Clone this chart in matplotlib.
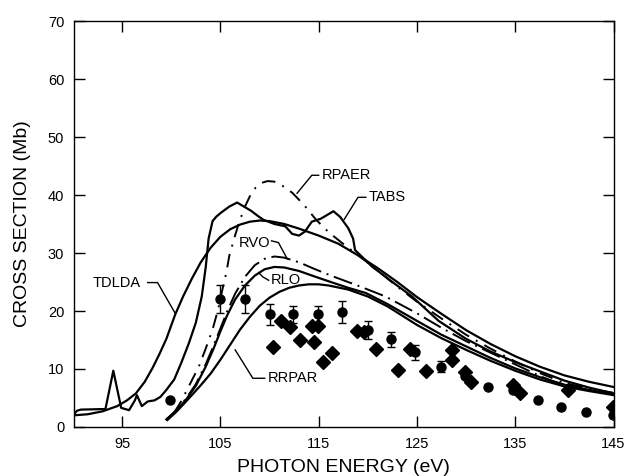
import matplotlib
matplotlib.use("Agg")
import matplotlib.pyplot as plt

plt.rcParams["font.family"] = ["Liberation Sans", "DejaVu Sans"]

# measured points: circles carry error bars, diamonds do not
circ_e = [99.9, 105.0, 107.5, 110.0, 112.4, 114.9, 117.4, 120.0, 122.4, 124.8,
          127.4, 129.9, 132.2, 134.8, 137.3, 139.7, 142.2, 144.9]
circ_s = [4.7, 22.0, 22.0, 19.4, 19.4, 19.4, 19.9, 16.7, 15.1, 12.9,
          10.4, 8.8, 6.9, 6.3, 4.7, 3.5, 2.6, 2.0]
circ_err = [0, 2.4, 2.4, 1.8, 1.5, 1.5, 1.9, 1.6, 1.3, 1.3,
            0.9, 0, 0, 0, 0, 0, 0, 0]

diam_e = [110.3, 111.2, 112.1, 113.1, 114.3, 114.5, 114.9, 115.4, 116.4, 118.9,
          119.6, 120.8, 123.1, 124.3, 125.9, 128.6, 128.6, 129.9, 130.5, 134.8,
          135.5, 140.4, 144.9]
diam_s = [13.8, 18.2, 17.3, 15.0, 17.4, 14.6, 17.5, 11.2, 12.7, 16.5,
          16.4, 13.4, 9.9, 13.4, 9.6, 13.3, 11.6, 9.5, 7.8, 7.3,
          5.9, 6.3, 3.5]

# theory curves
tdlda_e = [90.0, 91.5, 93.0, 94.5, 95.5, 96.4, 97.3, 98.1, 98.8, 99.5, 100.4, 101.2,
           102.1, 103.0, 104.0, 105.0, 106.0, 107.0, 108.0, 109.0, 110.0, 111.5, 113.0,
           115.0, 117.0, 119.0, 121.0, 123.0, 125.0, 127.5, 130.0, 132.5, 135.0, 137.5,
           140.0, 142.5, 145.0]
tdlda_s = [2.0, 2.2, 2.7, 3.6, 4.6, 5.8, 7.8, 10.2, 12.6, 15.2, 19.4, 22.5,
           25.6, 28.4, 30.9, 32.8, 34.1, 34.9, 35.4, 35.6, 35.5, 35.0, 34.2,
           33.0, 31.6, 29.6, 27.4, 25.0, 22.4, 19.5, 16.7, 14.3, 12.2, 10.4,
           8.9, 7.8, 6.9]

tabs_e = [90.0, 90.4, 90.8, 93.3, 94.1, 94.9, 95.7, 96.3, 96.5, 97.0, 97.6, 98.3,
          98.9, 99.5, 100.3, 101.0, 101.8, 102.5, 103.1, 103.5, 103.8, 104.2, 104.6,
          105.1, 105.9, 106.7, 107.4, 108.1, 108.8, 109.4, 110.5, 111.6, 112.3, 113.0,
          113.6, 114.3, 115.2, 116.5, 117.2, 118.0, 118.5, 118.7, 119.5, 120.4, 122.5,
          124.5, 127.2, 130.0, 132.5, 135.0, 137.5, 140.0, 142.5, 145.0]
tabs_s = [2.0, 2.8, 3.0, 3.1, 9.7, 3.3, 2.9, 4.6, 5.5, 3.6, 4.4, 4.6,
          5.2, 6.4, 8.2, 11.0, 14.5, 18.0, 22.5, 27.5, 32.5, 35.5, 36.3,
          37.0, 38.0, 38.7, 38.0, 37.3, 36.4, 35.7, 35.0, 34.6, 33.3, 33.0,
          33.7, 35.4, 35.9, 37.2, 36.2, 34.3, 32.5, 30.5, 29.2, 27.7, 25.0,
          22.5, 18.3, 15.2, 13.0, 11.2, 9.6, 8.0, 6.8, 5.8]

rpaer_e = [100.3, 101.0, 101.6, 102.2, 102.8, 103.5, 104.2, 104.8, 105.2, 105.6, 105.9,
           106.4, 106.9, 107.5, 108.0, 108.6, 109.2, 109.8, 110.5, 111.3, 112.3, 113.5,
           114.7, 116.0, 117.4, 119.1, 121.0, 123.0, 125.0, 127.5, 130.0, 132.5, 135.0,
           137.5, 140.0, 142.5, 145.0]
rpaer_s = [2.5, 4.4, 6.4, 8.4, 10.4, 13.5, 16.8, 20.5, 23.7, 26.6, 29.5,
           32.5, 35.3, 38.0, 39.8, 41.3, 42.1, 42.4, 42.3, 41.6, 40.4, 38.3,
           35.8, 33.6, 31.7, 29.5, 27.0, 24.2, 21.6, 18.7, 15.9, 13.5, 11.3,
           9.3, 7.6, 6.6, 5.9]

rvo_e = [99.5, 100.5, 101.5, 102.5, 103.5, 104.3, 105.0, 105.7, 106.5, 107.5, 108.5,
         109.5, 110.5, 111.5, 113.0, 114.5, 116.4, 119.1, 121.8, 125.0, 127.5, 130.0,
         132.5, 135.0, 137.5, 140.5]
rvo_s = [1.3, 2.9, 4.9, 7.4, 10.8, 14.0, 17.0, 20.0, 23.0, 25.9, 27.9,
         29.0, 29.4, 29.2, 28.4, 27.3, 26.0, 24.3, 22.5, 19.6, 17.1, 14.8,
         12.8, 10.8, 8.8, 6.7]

rlo_e = [99.5, 100.5, 101.5, 102.5, 103.5, 104.3, 105.0, 105.7, 106.5, 107.5, 108.5,
         109.5, 110.5, 111.5, 113.0, 114.5, 116.4, 118.0, 119.8, 122.0, 125.0, 127.5,
         130.0, 132.5, 135.0, 137.5, 140.0, 142.5, 145.0]
rlo_s = [1.3, 2.8, 4.7, 7.1, 10.4, 13.5, 16.5, 19.3, 22.0, 24.4, 26.1,
         27.2, 27.6, 27.5, 26.9, 26.0, 24.9, 24.0, 23.1, 21.2, 18.3, 15.9,
         13.9, 11.9, 10.1, 8.6, 7.3, 6.4, 5.6]

rrpar_e = [99.6, 100.5, 101.5, 102.2, 103.0, 104.0, 105.0, 106.0, 107.0, 108.0, 109.0,
           110.0, 111.0, 112.0, 113.0, 114.0, 115.0, 116.0, 118.0, 120.0, 122.0, 125.0,
           127.5, 130.0, 132.5, 135.0, 137.5, 140.0, 142.5, 145.0]
rrpar_s = [1.2, 2.6, 4.4, 5.7, 7.2, 9.2, 11.6, 14.2, 16.8, 19.0, 20.9,
           22.3, 23.3, 24.0, 24.4, 24.6, 24.6, 24.4, 23.7, 22.5, 20.8, 17.6,
           15.3, 13.3, 11.4, 9.7, 8.2, 7.0, 6.2, 5.5]

xticks = [95, 105, 115, 125, 135, 145]
yticks = [0, 10, 20, 30, 40, 50, 60, 70]

fig = plt.figure(figsize=(6.26, 4.76), dpi=100)
ax = fig.add_axes([74 / 626, 1 - 427 / 476, (613.5 - 74) / 626, (427 - 21) / 476])

lw = 1.6
ax.plot(tdlda_e, tdlda_s, color="black", lw=lw)
ax.plot(tabs_e, tabs_s, color="black", lw=lw)
ax.plot(rlo_e, rlo_s, color="black", lw=lw)
ax.plot(rrpar_e, rrpar_s, color="black", lw=lw)
ax.plot(rpaer_e, rpaer_s, color="black", lw=1.4, ls=(0, (7, 4, 1, 4)))
ax.plot(rvo_e, rvo_s, color="black", lw=1.4, ls=(0, (10, 3, 1, 3)))

ax.errorbar(circ_e, circ_s, yerr=circ_err, fmt="o", color="black", ms=6.5,
            elinewidth=1.0, capsize=3, capthick=1.0, zorder=5)
ax.plot(diam_e, diam_s, "D", color="black", ms=6.8, zorder=5)

# curve labels with leader lines
def tag(text, tx, ty, path):
    xs, ys = zip(*path)
    ax.plot(xs, ys, color="black", lw=1.0)
    ax.text(tx, ty, text, fontsize=10.5, ha="left", va="center")

tag("RPAER", 115.3, 43.4, [(115.0, 43.4), (114.3, 43.4), (112.8, 40.3)])
tag("TABS", 120.1, 39.6, [(119.8, 39.6), (119.0, 39.6), (117.6, 35.8)])
tag("TDLDA", 92.0, 24.9, [(97.6, 24.9), (98.6, 24.9), (100.4, 19.6)])
tag("RVO", 106.9, 31.8, [(110.2, 32.1), (110.9, 31.8), (111.8, 29.0)])
tag("RLO", 110.1, 25.3, [(109.9, 25.3), (109.3, 25.9), (108.9, 26.6)])
tag("RRPAR", 109.8, 8.4, [(109.5, 8.4), (108.3, 8.4), (106.5, 13.3)])

ax.set_xlim(90.1, 145)
ax.set_ylim(0, 70)
ax.set_xticks(xticks)
ax.set_yticks(yticks)
ax.tick_params(direction="in", length=8, width=1.0, top=True, right=True,
               labelsize=10.5, pad=7)
ax.tick_params(axis="x", labeltop=False)
ax.tick_params(axis="y", labelright=False)
for sp in ax.spines.values():
    sp.set_linewidth(1.0)

ax.set_xlabel("PHOTON ENERGY (eV)", fontsize=14, labelpad=6)
ax.set_ylabel("CROSS SECTION (Mb)", fontsize=14, labelpad=12)

fig.savefig("out.png", dpi=100)
